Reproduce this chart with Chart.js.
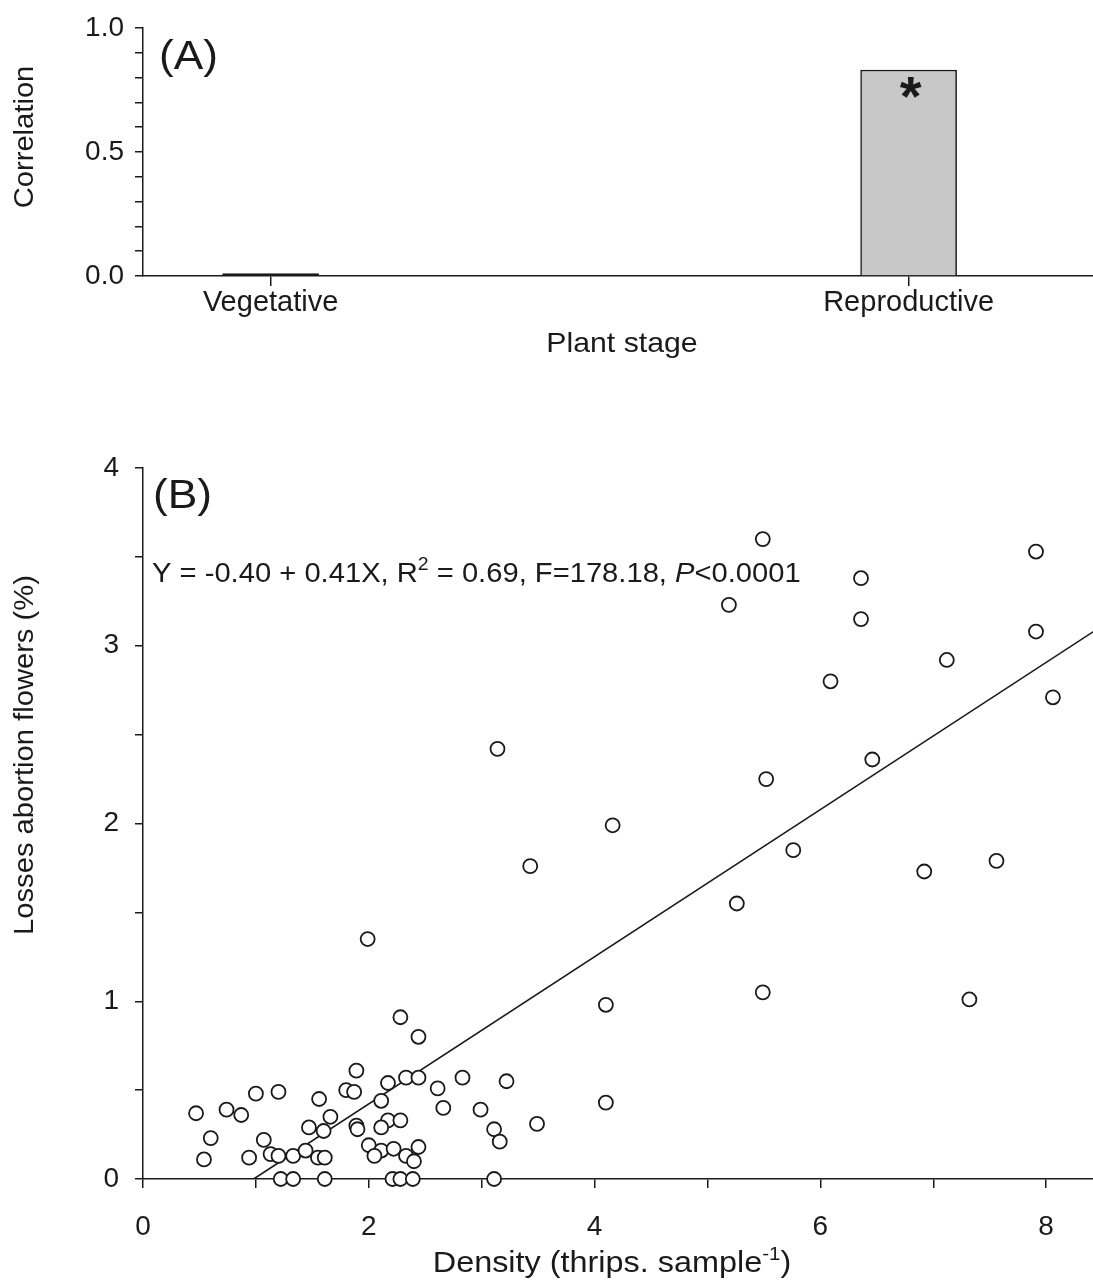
<!DOCTYPE html>
<html>
<head>
<meta charset="utf-8">
<script src="https://cdn.jsdelivr.net/npm/chart.js@4.4.0/dist/chart.umd.min.js"></script>
<style>
    html, body { margin: 0; padding: 0; background: #fff; overflow: hidden; }
    .panel { position: relative; width: 1093px; }
</style>
</head>
<body>
<div class="panel" style="height:370px"><canvas id="corrChart"></canvas></div>
<div class="panel" style="height:911px"><canvas id="lossChart"></canvas></div>
<script>
// ---- panel A data ----
const stages = ['Vegetative', 'Reproductive'];
const correlation = [0.01, 0.83];
const significance = ['', '*'];
const corrTickLabels = [0, 0.5, 1.0];

// ---- panel B data ----
const density = [5.49, 7.91, 6.36, 5.19, 6.36, 7.91, 7.12, 6.09, 8.06, 3.14, 6.46, 5.52, 4.16, 5.76, 7.56, 3.43,
    6.92, 5.26, 1.99, 5.49, 7.32, 4.10, 2.28, 2.44, 1.89, 1.80, 1.87, 1.00, 1.20, 2.17, 2.33, 2.44, 2.61, 2.83,
    3.22, 1.56, 2.11, 0.47, 0.74, 0.87, 1.66, 2.66, 2.99, 4.10, 3.49, 1.47, 1.60, 1.89, 1.90, 2.17, 2.28, 2.11,
    3.11, 3.16, 0.60, 1.07, 2.00, 2.11, 2.22, 2.44, 0.54, 0.94, 1.13, 1.20, 1.33, 1.44, 1.55, 1.61, 2.05, 2.33,
    2.40, 1.22, 1.33, 1.61, 2.21, 2.28, 2.39, 3.11];
const losses = [3.60, 3.53, 3.38, 3.23, 3.15, 3.08, 2.92, 2.80, 2.71, 2.42, 2.36, 2.25, 1.99, 1.85, 1.79, 1.76,
    1.73, 1.55, 1.35, 1.05, 1.01, 0.98, 0.91, 0.80, 0.61, 0.50, 0.49, 0.48, 0.49, 0.54, 0.57, 0.57, 0.51, 0.57,
    0.55, 0.45, 0.44, 0.37, 0.39, 0.36, 0.35, 0.40, 0.39, 0.43, 0.31, 0.29, 0.27, 0.30, 0.28, 0.33, 0.33, 0.29,
    0.28, 0.21, 0.23, 0.22, 0.19, 0.16, 0.17, 0.18, 0.11, 0.12, 0.14, 0.13, 0.13, 0.16, 0.12, 0.12, 0.13, 0.13,
    0.10, 0, 0, 0, 0, 0, 0, 0];
const fitDensity = [0.98, 8.42];
const fitLosses = [0, 3.08];
const densityTickLabels = [0, 2, 4, 6, 8];
const lossTickLabels = [0, 1, 2, 3, 4];

const FONT = "'Liberation Sans', Arial, sans-serif";
const INK = '#1a1a1a';
const STRETCH = 1.08; // the source lettering is a little wider than Arial

// slots of the two stages along panel A's x axis
const stageSlot = [1, 6];

function axisStyle(tickLen) {
    return {
        grid: { display: true, drawOnChartArea: false, drawTicks: true, offset: false, tickLength: tickLen, color: INK, lineWidth: 1.5 },
        border: { display: true, color: INK, width: 1.5 },
    };
}

function runsWidth(ctx, runs) {
    let w = 0;
    ctx.save();
    runs.forEach(([t, f]) => { ctx.font = f; w += ctx.measureText(t).width; });
    ctx.restore();
    return w * STRETCH;
}

// draws a line of mixed-font text; x is the left edge
function textRuns(ctx, runs, x, y) {
    ctx.save();
    ctx.translate(x, y);
    ctx.scale(STRETCH, 1);
    ctx.textAlign = 'left';
    ctx.textBaseline = 'alphabetic';
    ctx.fillStyle = INK;
    let cx = 0;
    runs.forEach(([t, f, dy]) => {
        ctx.font = f;
        ctx.fillText(t, cx, dy || 0);
        cx += ctx.measureText(t).width;
    });
    ctx.restore();
}

function centeredRuns(ctx, runs, cx, y) {
    textRuns(ctx, runs, cx - runsWidth(ctx, runs) / 2, y);
}

function rotatedTitle(ctx, text, size, cx, cy) {
    ctx.save();
    ctx.translate(cx, cy);
    ctx.rotate(-Math.PI / 2);
    ctx.scale(STRETCH, 1);
    ctx.font = size + 'px ' + FONT;
    ctx.fillStyle = INK;
    ctx.textAlign = 'center';
    ctx.textBaseline = 'middle';
    ctx.fillText(text, 0, 0);
    ctx.restore();
}

const panelAText = {
    id: 'panelAText',
    afterDraw(chart) {
        const { ctx, chartArea, scales } = chart;
        textRuns(ctx, [['(A)', '41px ' + FONT]], chartArea.left + 16, 69);
        rotatedTitle(ctx, 'Correlation', 27, 26, 137);
        centeredRuns(ctx, [['Plant stage', '28px ' + FONT]], (chartArea.left + chartArea.right) / 2 + 4, 352);
        ctx.save();
        ctx.font = 'bold 56px ' + FONT;
        ctx.fillStyle = INK;
        ctx.textAlign = 'center';
        ctx.textBaseline = 'alphabetic';
        significance.forEach((s, i) => {
            if (!s) return;
            const x = scales.x.getPixelForValue(stageSlot[i]);
            const y = scales.y.getPixelForValue(correlation[i]);
            ctx.fillText(s, x + 2, y + 45);
        });
        ctx.restore();
    },
};

const panelBText = {
    id: 'panelBText',
    afterDraw(chart) {
        const { ctx, chartArea } = chart;
        textRuns(ctx, [['(B)', '41px ' + FONT]], chartArea.left + 10, 138);
        const f = '27px ' + FONT;
        textRuns(ctx, [
            ['Y = -0.40 + 0.41X, R', f],
            ['2', '18px ' + FONT, -12],
            [' = 0.69, F=178.18, ', f],
            ['P', 'italic 27px ' + FONT],
            ['<0.0001', f],
        ], chartArea.left + 9, 212);
        rotatedTitle(ctx, 'Losses abortion flowers (%)', 27, 26, 385);
        const t = '30px ' + FONT;
        centeredRuns(ctx, [
            ['Density (thrips. sample', t],
            ['-1', '19px ' + FONT, -12],
            [')', t],
        ], (chartArea.left + chartArea.right) / 2 - 6, 902);
    },
};

new Chart(document.getElementById('corrChart'), {
    type: 'bar',
    data: {
        datasets: [{
            data: stages.map((s, i) => ({ x: stageSlot[i], y: correlation[i] })),
            backgroundColor: [INK, '#c8c8c8'],
            borderColor: INK,
            borderWidth: 1.5,
            borderSkipped: 'bottom',
            barThickness: 96,
        }],
    },
    options: {
        responsive: true,
        maintainAspectRatio: false,
        animation: false,
        layout: { autoPadding: false, padding: { top: 27, right: 0, left: 0, bottom: 0 } },
        plugins: { legend: { display: false }, tooltip: { enabled: false } },
        scales: {
            x: {
                type: 'linear',
                min: 0,
                max: 7.445,
                offset: false,
                ...axisStyle(10),
                afterBuildTicks: s => { s.ticks = stageSlot.map(v => ({ value: v })); },
                afterFit: s => { s.height = 94; },
                ticks: {
                    color: INK,
                    autoSkip: false,
                    maxRotation: 0,
                    font: { family: FONT, size: 29 },
                    padding: 0,
                    callback: (v, i) => stages[i],
                },
            },
            y: {
                min: 0,
                max: 1,
                ...axisStyle(8),
                afterBuildTicks: s => {
                    s.ticks = [];
                    for (let k = 0; k <= 10; k++) s.ticks.push({ value: k / 10 });
                },
                afterFit: s => { s.width = 143; },
                ticks: {
                    color: INK,
                    autoSkip: false,
                    font: { family: FONT, size: 28 },
                    padding: 11,
                    callback: v => {
                        const hit = corrTickLabels.find(t => Math.abs(t - v) < 1e-6);
                        return hit === undefined ? '' : hit.toFixed(1);
                    },
                },
            },
        },
    },
    plugins: [panelAText],
});

new Chart(document.getElementById('lossChart'), {
    type: 'scatter',
    data: {
        datasets: [
            {
                type: 'scatter',
                data: density.map((d, i) => ({ x: d, y: losses[i] })),
                pointRadius: 7,
                pointBorderWidth: 1.8,
                pointBackgroundColor: '#fff',
                pointBorderColor: INK,
                clip: false,
                order: 0,
            },
            {
                type: 'line',
                data: fitDensity.map((d, i) => ({ x: d, y: fitLosses[i] })),
                borderColor: INK,
                borderWidth: 1.6,
                pointRadius: 0,
                fill: false,
                order: 1,
            },
        ],
    },
    options: {
        responsive: true,
        maintainAspectRatio: false,
        animation: false,
        layout: { autoPadding: false, padding: { top: 98, right: 0, left: 0, bottom: 0 } },
        plugins: { legend: { display: false }, tooltip: { enabled: false } },
        scales: {
            x: {
                type: 'linear',
                min: 0,
                max: 8.415,
                ...axisStyle(9),
                afterBuildTicks: s => {
                    s.ticks = [];
                    for (let k = 0; k <= 8; k++) s.ticks.push({ value: k });
                },
                afterFit: s => { s.height = 102; },
                ticks: {
                    color: INK,
                    autoSkip: false,
                    maxRotation: 0,
                    font: { family: FONT, size: 28 },
                    padding: 22,
                    callback: v => densityTickLabels.includes(v) ? String(v) : '',
                },
            },
            y: {
                min: 0,
                max: 4,
                ...axisStyle(8),
                afterBuildTicks: s => {
                    s.ticks = [];
                    for (let k = 0; k <= 8; k++) s.ticks.push({ value: k / 2 });
                },
                afterFit: s => { s.width = 143; },
                ticks: {
                    color: INK,
                    autoSkip: false,
                    font: { family: FONT, size: 28 },
                    padding: 16,
                    callback: v => lossTickLabels.includes(v) ? String(v) : '',
                },
            },
        },
    },
    plugins: [panelBText],
});
</script>
</body>
</html>
